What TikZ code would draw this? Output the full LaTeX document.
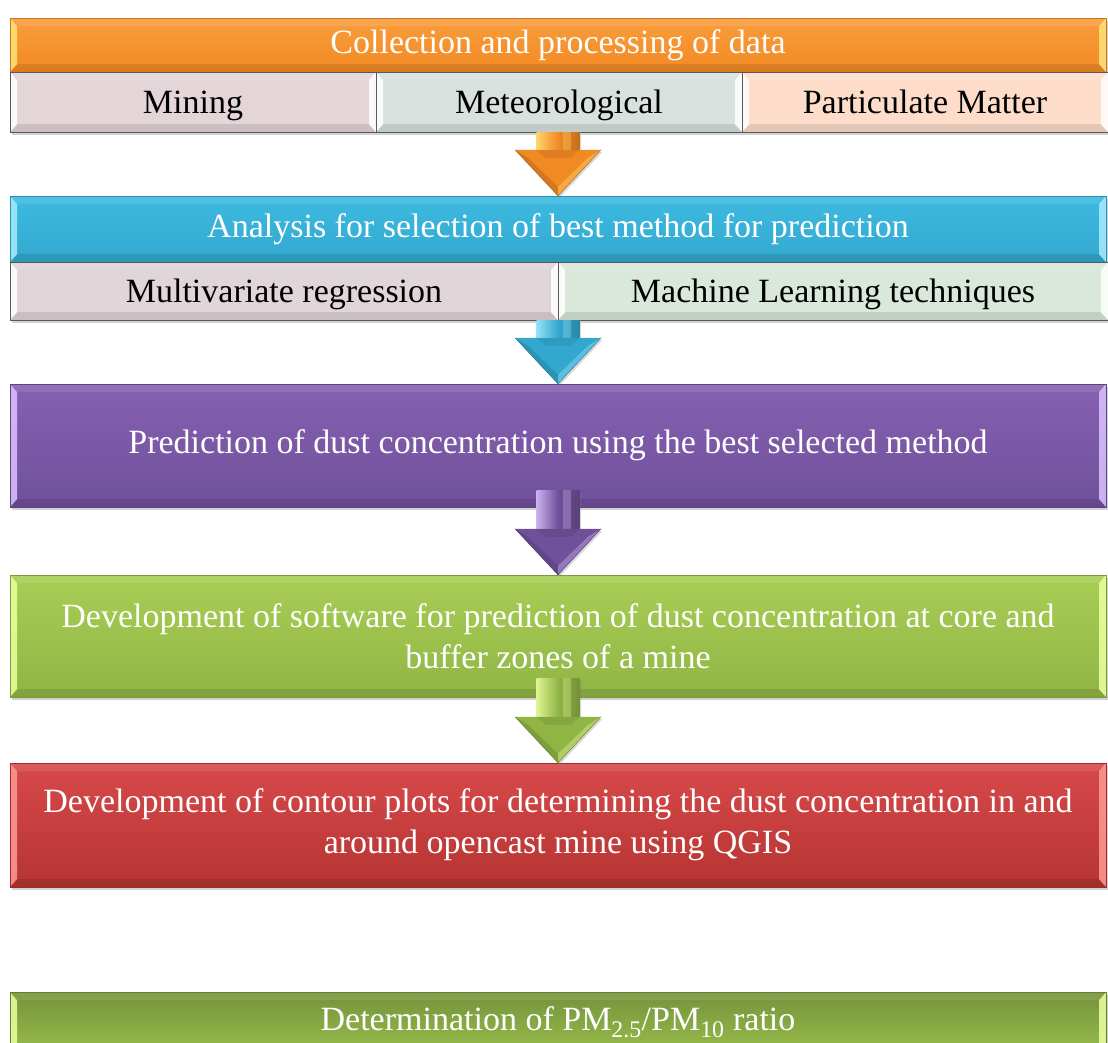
\documentclass[tikz,border=0pt]{standalone}
\usepackage{fontspec}
\setmainfont{Liberation Serif}
\usetikzlibrary{calc,shadows}

\definecolor{orTop}{HTML}{F99D3C}
\definecolor{orBot}{HTML}{F28A24}
\definecolor{orEdge}{HTML}{FFE27A}
\definecolor{blTop}{HTML}{3DBAE0}
\definecolor{blBot}{HTML}{33A8CF}
\definecolor{blEdge}{HTML}{A6ECFF}
\definecolor{puTop}{HTML}{8661B2}
\definecolor{puBot}{HTML}{70509A}
\definecolor{puEdge}{HTML}{DCC2FF}
\definecolor{grTop}{HTML}{A8CE55}
\definecolor{grBot}{HTML}{90B545}
\definecolor{grEdge}{HTML}{EEFFA0}
\definecolor{reTop}{HTML}{D8494A}
\definecolor{reBot}{HTML}{B53432}
\definecolor{reEdge}{HTML}{FF9A92}
\definecolor{dgTop}{HTML}{74933A}
\definecolor{dgBot}{HTML}{98BC4C}
\definecolor{mineC}{HTML}{E3D5D8}
\definecolor{meteoC}{HTML}{D8E1DE}
\definecolor{partC}{HTML}{FDDDCA}
\definecolor{multiC}{HTML}{E0D5D8}
\definecolor{mlC}{HTML}{D9E8DB}

\tikzset{
  bevel/.style={path picture={
      \coordinate (bnw) at (path picture bounding box.north west);
      \coordinate (bne) at (path picture bounding box.north east);
      \coordinate (bsw) at (path picture bounding box.south west);
      \coordinate (bse) at (path picture bounding box.south east);
      \fill[white, opacity=.10] (bnw) -- (bne) -- ([shift={(-8pt,-8pt)}]bne) -- ([shift={(8pt,-8pt)}]bnw) -- cycle;
      \fill[black, opacity=.10] (bsw) -- (bse) -- ([shift={(-8pt,8pt)}]bse) -- ([shift={(8pt,8pt)}]bsw) -- cycle;
      \fill[#1, opacity=.85] (bnw) -- ([shift={(7pt,-8pt)}]bnw) -- ([shift={(7pt,8pt)}]bsw) -- (bsw) -- cycle;
      \fill[#1, opacity=.85] (bne) -- ([shift={(-7pt,-8pt)}]bne) -- ([shift={(-7pt,8pt)}]bse) -- (bse) -- cycle;
  }},
  stage/.style={rectangle, inner sep=0pt, minimum width=1096pt, text=white,
      align=center, font=\fontsize{34}{41}\selectfont,
      drop shadow={shadow xshift=1.5pt, shadow yshift=-2.5pt, opacity=.35}},
  item/.style={rectangle, inner sep=0pt, text=black, draw=black!65, line width=.8pt,
      font=\fontsize{34}{41}\selectfont, text height=27pt, text depth=5pt, bevel=white,
      drop shadow={shadow xshift=1.5pt, shadow yshift=-2.5pt, opacity=.35}},
}

% block arrow pointing down: #1 base colour, #2 light colour, #3 start, #4 tip
\newcommand\downarrowblock[4]{%
  \path (#3) coordinate (aS) (#4) coordinate (aT);
  \coordinate (aS) at (aS -| aT);
  \fill[#1, drop shadow={shadow xshift=1.5pt, shadow yshift=-2pt, opacity=.3}]
    ($(aS)+(-21.5pt,0)$) -- ($(aS)+(21.5pt,0)$) -- ($(aT)+(21.5pt,46pt)$)
    -- ($(aT)+(43pt,46pt)$) -- (aT) -- ($(aT)+(-43pt,46pt)$)
    -- ($(aT)+(-21.5pt,46pt)$) -- cycle;
  % rounded look of the shaft
  \shade[left color=#2!85!#1, right color=#1!80!black, middle color=#1]
    ($(aS)+(-21.5pt,0)$) rectangle ($(aT)+(21.5pt,46pt)$);
  \fill[#2, opacity=.30] ($(aS)+(5pt,0)$) rectangle ($(aT)+(13pt,46pt)$);
  % facets of the head
  \fill[#2, opacity=.35] ($(aT)+(0,9pt)$) -- ($(aT)+(30pt,38pt)$) -- ($(aT)+(43pt,46pt)$) -- (aT) -- cycle;
  \fill[black, opacity=.12] ($(aT)+(0,9pt)$) -- ($(aT)+(-30pt,38pt)$) -- ($(aT)+(-43pt,46pt)$) -- (aT) -- cycle;
  \fill[#1!85!black, opacity=.5] ($(aT)+(-21.5pt,46pt)$) -- ($(aT)+(21.5pt,46pt)$) -- ($(aT)+(13pt,38pt)$) -- ($(aT)+(-13pt,38pt)$) -- cycle;
  \draw[#1!70!black, line width=.4pt]
    ($(aT)+(-43pt,46pt)$) -- (aT) -- ($(aT)+(43pt,46pt)$);
}

\begin{document}
\begin{tikzpicture}[x=1pt, y=-1pt]
\clip (0,0) rectangle (1108,1042);
\fill[white] (0,0) rectangle (1108,1042);

% stage 1: data collection
\node[stage, minimum height=54pt, top color=orTop, bottom color=orBot, draw=orBot!85!black, bevel=orEdge]
  (collect) at (558,45) {Collection and processing of data};
\node[item, minimum width=366pt, minimum height=60pt, fill=mineC] (mining) at (193,102) {Mining};
\node[item, minimum width=366pt, minimum height=60pt, fill=meteoC] (meteo) at (559,102) {Meteorological};
\node[item, minimum width=366pt, minimum height=60pt, fill=partC] (pm) at (925,102) {Particulate Matter};

% stage 2: method selection
\node[stage, minimum height=66pt, top color=blTop, bottom color=blBot, draw=blBot!85!black, bevel=blEdge]
  (analysis) at (558,229) {Analysis for selection of best method for prediction};
\node[item, minimum width=548pt, minimum height=58pt, fill=multiC] (multi) at (284,291) {Multivariate regression};
\node[item, minimum width=550pt, minimum height=58pt, fill=mlC] (ml) at (833,291) {Machine Learning techniques};

% stage 3: prediction
\node[stage, minimum height=123pt, top color=puTop, bottom color=puBot, draw=puBot!85!black, bevel=puEdge]
  (predict) at (558,445.5) {Prediction of dust concentration using the best selected method};

% stage 4: software
\node[stage, minimum height=122pt, top color=grTop, bottom color=grBot, draw=grBot!85!black, bevel=grEdge]
  (software) at (558,636) {Development of software for prediction of dust concentration at core and\\ buffer zones of a mine};

% stage 5: contour plots
\node[stage, minimum height=124pt, top color=reTop, bottom color=reBot, draw=reBot!85!black, bevel=reEdge]
  (contour) at (558,825) {Development of contour plots for determining the dust concentration in and\\ around opencast mine using QGIS};

% ratio bar
\node[stage, minimum height=60pt, text height=24pt, text depth=8pt, top color=dgTop, bottom color=dgBot,
  draw=dgTop!85!black, bevel=grEdge, anchor=north]
  (ratio) at (558,992) {Determination of PM\textsubscript{2.5}/PM\textsubscript{10} ratio};

% connecting arrows
\downarrowblock{orBot}{orEdge}{meteo.south}{analysis.north}
\downarrowblock{blBot}{blEdge}{multi.south east}{predict.north}
\downarrowblock{puBot}{puEdge}{$(predict.south)+(0,17pt)$}{software.north}
\downarrowblock{grBot}{grEdge}{$(software.south)+(0,19pt)$}{contour.north}
\end{tikzpicture}
\end{document}
